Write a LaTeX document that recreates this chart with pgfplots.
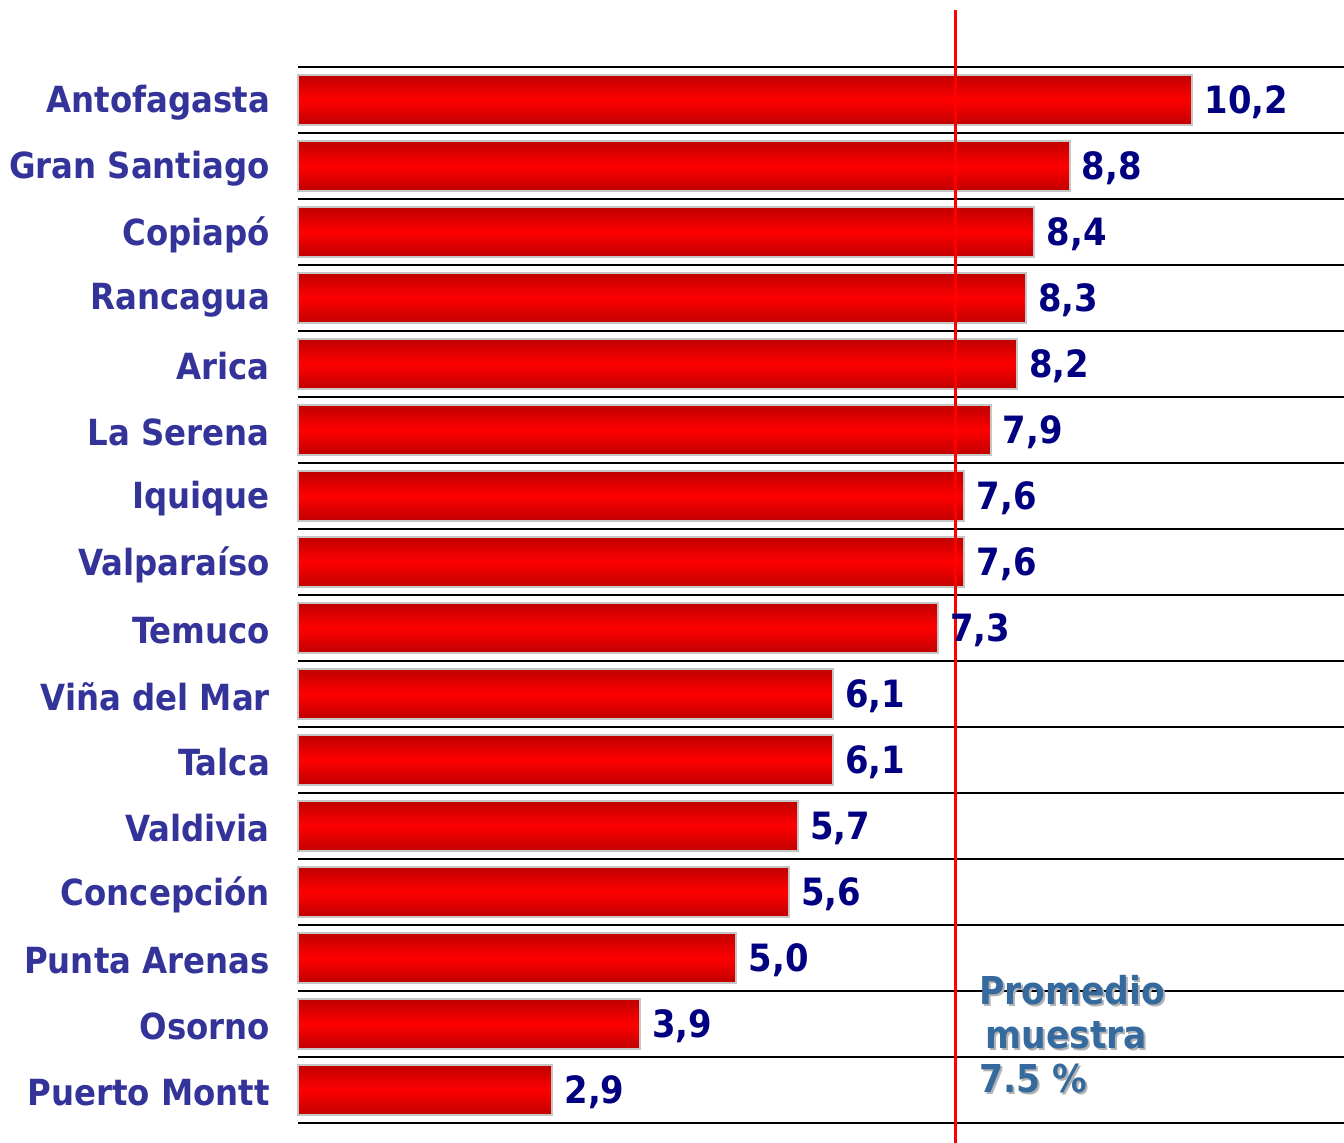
\documentclass[border=0pt]{standalone}
\usepackage{pgfplots}
\pgfplotsset{compat=1.18}
\usepackage{fontspec}
\setmainfont{DejaVu Sans Condensed}
\definecolor{catblue}{HTML}{333399}
\definecolor{valnavy}{HTML}{000080}
\definecolor{avgblue}{HTML}{356A9E}
\definecolor{darkred}{HTML}{C00000}
\pgfplotsset{
  mybar/.style={xbar, bar shift=0pt, draw=gray!45, line width=0.5pt,
    top color=darkred, bottom color=darkred, middle color=red,
    nodes near coords={\pgfmathprintnumber[use comma,fixed,fixed zerofill,precision=1,assume math mode=true]{\pgfplotspointmeta}},
    point meta=x,
    every node near coord/.append style={font=\bfseries\fontsize{9.4}{10}\selectfont, text=valnavy, anchor=west, xshift=-0.5pt, yshift=-0.5pt},
  }
}
\begin{document}
\begin{tikzpicture}
\begin{axis}[
  scale only axis,
  width=261.5pt, height=264pt,
  xmin=0, xmax=11.93,
  ymin=-0.5, ymax=15.5,
  y dir=reverse,
  clip=false,
  axis line style={draw=none},
  xtick=\empty,
  ytick={0,...,15},
  yticklabels={Antofagasta,Gran Santiago,Copiapó,Rancagua,Arica,La Serena,Iquique,Valparaíso,Temuco,Viña del Mar,Talca,Valdivia,Concepción,Punta Arenas,Osorno,Puerto Montt},
  yticklabel style={font=\bfseries\fontsize{9.0}{10}\selectfont, text=catblue, xshift=-3.5pt, yshift=-0.6pt},
  minor ytick={-0.5,0.5,...,15.5},
  yminorgrids=true,
  minor grid style={black, line width=0.6pt},
  major tick length=0pt, minor tick length=0pt,
  bar width=0.75,
]
\addplot[mybar] coordinates {(10.2,0)};
\addplot[mybar] coordinates {(8.8,1)};
\addplot[mybar] coordinates {(8.4,2)};
\addplot[mybar] coordinates {(8.3,3)};
\addplot[mybar] coordinates {(8.2,4)};
\addplot[mybar] coordinates {(7.9,5)};
\addplot[mybar] coordinates {(7.6,6)};
\addplot[mybar] coordinates {(7.6,7)};
\addplot[mybar] coordinates {(7.3,8)};
\addplot[mybar] coordinates {(6.1,9)};
\addplot[mybar] coordinates {(6.1,10)};
\addplot[mybar] coordinates {(5.7,11)};
\addplot[mybar] coordinates {(5.6,12)};
\addplot[mybar] coordinates {(5.0,13)};
\addplot[mybar] coordinates {(3.9,14)};
\addplot[mybar] coordinates {(2.9,15)};
\addplot[red, line width=0.8pt] coordinates {(7.5,-1.36) (7.5,15.8)};
\node[anchor=north west, align=left, font=\bfseries\fontsize{9.6}{11}\selectfont, text=gray!60, inner sep=0pt, xshift=0.5pt, yshift=-0.5pt] at (axis cs:7.76,13.25) {Promedio\\ \,muestra\\7.5 \%};
\node[anchor=north west, align=left, font=\bfseries\fontsize{9.6}{11}\selectfont, text=avgblue, inner sep=0pt] at (axis cs:7.76,13.25) {Promedio\\ \,muestra\\7.5 \%};
\end{axis}
\pgfresetboundingbox
\path[use as bounding box] ([xshift=-74.5pt,yshift=-5pt]current axis.south west) rectangle ([yshift=16.75pt]current axis.north east);
\end{tikzpicture}
\end{document}
